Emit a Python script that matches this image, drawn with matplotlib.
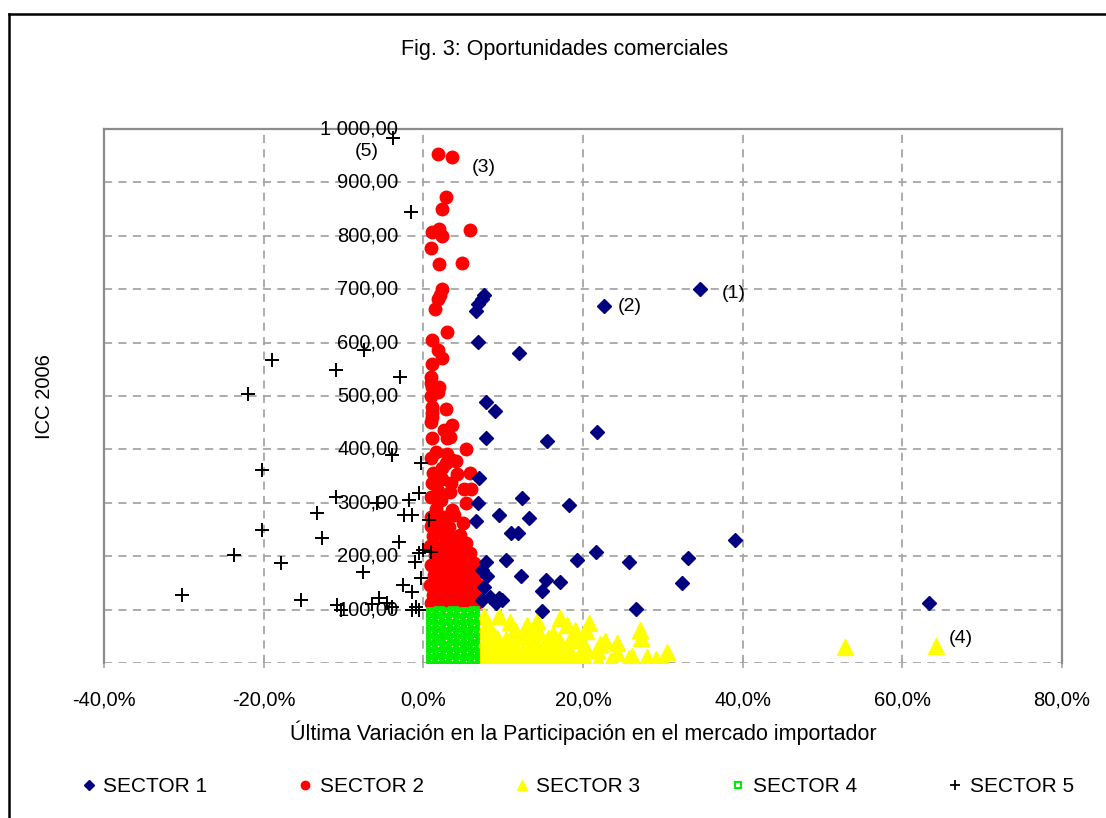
import matplotlib
matplotlib.use('Agg')
import matplotlib.pyplot as plt
from matplotlib.lines import Line2D

plt.rcParams['font.family'] = ['Liberation Sans', 'DejaVu Sans']
plt.rcParams['axes.unicode_minus'] = False

title = "Fig. 3: Oportunidades comerciales"
x_label = "Última Variación en la Participación en el mercado importador"
y_label = "ICC 2006"
x_ticks = [-40, -20, 0, 20, 40, 60, 80]
x_tick_labels = ["-40,0%", "-20,0%", "0,0%", "20,0%", "40,0%", "60,0%", "80,0%"]
y_ticks = [100, 200, 300, 400, 500, 600, 700, 800, 900, 1000]
y_tick_labels = ["100,00", "200,00", "300,00", "400,00", "500,00", "600,00",
                 "700,00", "800,00", "900,00", "1 000,00"]
series_names = ["SECTOR 1", "SECTOR 2", "SECTOR 3", "SECTOR 4", "SECTOR 5"]

sector1 = [(34.6, 700), (22.6, 668), (7.6, 690), (7.3, 681), (6.8, 672), (6.6, 659),
           (6.8, 602), (12.0, 580), (7.9, 488), (9.0, 471), (7.8, 422), (15.5, 415),
           (21.7, 432), (7.0, 347), (6.9, 300), (6.6, 266), (9.5, 278), (12.4, 309),
           (13.2, 272), (18.2, 295), (11.0, 244), (11.8, 244), (39.0, 231), (7.8, 190),
           (7.4, 174), (8.0, 162), (7.6, 143), (8.3, 124), (9.5, 122), (9.1, 112),
           (7.3, 118), (9.9, 118), (10.3, 193), (12.2, 163), (15.4, 156), (14.9, 135),
           (17.1, 152), (19.2, 192), (21.6, 207), (14.9, 98), (25.8, 190), (33.2, 197),
           (32.4, 150), (26.7, 101), (63.4, 113)]

sector2 = [(0.9, 112), (2.0, 110), (3.1, 113), (4.0, 109), (5.1, 112), (6.2, 110), (6.8, 115),
           (1.2, 128), (2.4, 131), (3.4, 127), (4.6, 132), (5.6, 129), (6.6, 133),
           (0.8, 146), (1.9, 149), (2.9, 145), (3.9, 150), (5.0, 147), (6.1, 151), (6.9, 146),
           (1.3, 165), (2.3, 167), (3.5, 163), (4.4, 168), (5.5, 166), (6.5, 164),
           (0.9, 183), (2.0, 186), (3.0, 181), (4.1, 185), (5.2, 182), (6.3, 188),
           (1.4, 202), (2.6, 199), (3.6, 204), (4.7, 201), (5.8, 206),
           (0.8, 220), (1.9, 218), (3.1, 223), (4.3, 219), (5.3, 225),
           (1.2, 238), (2.4, 241), (3.5, 236), (4.6, 240), (1.0, 256), (2.1, 259),
           (3.2, 254), (5.0, 262), (0.9, 274), (2.6, 274), (3.9, 278), (1.6, 289),
           (3.6, 287), (5.4, 300), (2.2, 305), (0.9, 310),
           (1.8, 322), (3.3, 320), (5.1, 325), (6.0, 325), (1.1, 338), (3.5, 337),
           (2.4, 345), (1.2, 356), (4.2, 353), (5.8, 356), (2.3, 365), (3.6, 381),
           (2.9, 375), (1.0, 384), (4.1, 378), (1.6, 396), (5.4, 400), (3.0, 392),
           (3.3, 424), (1.1, 422), (3.0, 422), (2.6, 437), (3.6, 446), (1.0, 452),
           (1.1, 460), (2.9, 475), (1.1, 469), (1.1, 480), (1.0, 500), (1.8, 508),
           (1.1, 516), (2.0, 516), (1.0, 525), (1.0, 535), (1.1, 559), (2.3, 572),
           (1.8, 587), (1.1, 604), (3.0, 619), (1.4, 662), (1.8, 681), (2.1, 690),
           (2.4, 700), (2.0, 748), (4.9, 750), (1.0, 778), (2.3, 800), (1.1, 807),
           (2.0, 812), (5.8, 810), (2.4, 850), (2.8, 872), (1.8, 953), (3.6, 947)]

sector3 = [(7.4, 5), (8.7, 4), (10.0, 6), (11.3, 5), (12.6, 4), (13.9, 6), (15.2, 5),
           (16.5, 4), (17.8, 6), (19.1, 5), (20.4, 3), (21.9, 4), (23.5, 6), (25.8, 10),
           (28.0, 11), (30.0, 3),
           (8.0, 18), (9.3, 19), (10.6, 17), (11.9, 20), (13.2, 18), (14.5, 19), (15.8, 17),
           (17.1, 19), (18.4, 18), (19.8, 20), (21.8, 24), (24.3, 18), (26.2, 13), (29.2, 8),
           (7.5, 32), (8.8, 33), (10.1, 31), (11.4, 33), (12.7, 32), (14.0, 31), (15.3, 33),
           (16.6, 32), (18.0, 31), (20.2, 30), (22.1, 36), (30.5, 21),
           (7.9, 46), (9.2, 47), (10.4, 45), (12.4, 50), (13.8, 44), (15.6, 46), (17.0, 44),
           (18.7, 46), (19.6, 43), (22.7, 41), (24.2, 38), (27.3, 47),
           (7.5, 60), (8.6, 58), (11.5, 62), (13.0, 60), (14.5, 57), (16.3, 55), (19.0, 62),
           (20.4, 60), (27.1, 62),
           (7.6, 88), (7.9, 72), (9.5, 88), (10.8, 77), (13.0, 72), (14.2, 78), (17.1, 84),
           (18.0, 72), (20.8, 75), (52.8, 30), (64.2, 32)]

sector4 = [(0.9, 6), (1.8, 5), (2.7, 7), (3.6, 5), (4.5, 6), (5.4, 4), (6.3, 6),
           (1.0, 19), (1.9, 20), (2.8, 18), (3.7, 20), (4.6, 19), (5.5, 21), (6.3, 18),
           (0.9, 32), (1.8, 31), (2.7, 33), (3.6, 32), (4.5, 31), (5.4, 33), (6.2, 32),
           (1.0, 45), (1.9, 46), (2.8, 44), (3.7, 46), (4.6, 45), (5.5, 44), (6.3, 46),
           (0.9, 58), (1.8, 57), (2.7, 59), (3.6, 58), (4.5, 57), (5.4, 59), (6.2, 58),
           (1.0, 71), (1.9, 72), (2.8, 70), (3.7, 72), (4.6, 71), (5.5, 70), (6.3, 72),
           (0.9, 84), (1.8, 83), (2.7, 85), (3.6, 84), (4.5, 83), (5.4, 85), (6.2, 84),
           (1.0, 96), (1.9, 97), (2.8, 95), (3.7, 97), (4.6, 96), (5.5, 95), (6.3, 97)]

sector5 = [(-3.8, 983), (-1.6, 844), (-18.9, 568), (-7.4, 587), (-11.0, 548), (-2.9, 535),
           (-21.9, 503), (-20.2, 362), (-3.9, 390), (-0.3, 375), (-10.9, 311), (-13.3, 281),
           (-5.8, 300), (-1.8, 306), (-0.5, 319), (-2.4, 278), (-1.4, 278), (0.75, 268),
           (-20.2, 249), (-12.7, 234), (-23.7, 203), (-17.8, 188), (-3.0, 227), (-0.1, 212),
           (1.0, 208), (-1.1, 190), (-0.5, 206), (-7.6, 171), (-0.3, 159), (-2.6, 146),
           (-1.4, 133), (-30.2, 128), (-15.3, 118), (-10.8, 109), (-10.3, 99), (-5.5, 122),
           (-4.6, 112), (-6.4, 111), (-3.9, 105), (-0.9, 105), (-0.5, 99), (-1.4, 99)]

W, H = 1106, 818
fig = plt.figure(figsize=(W / 100, H / 100), dpi=100)
ax = fig.add_axes([104 / W, 1 - 663 / H, (1062 - 104) / W, (663 - 129) / H])
ax.set_xlim(-40, 80)
ax.set_ylim(0, 1000)

grid_color = '#a6a6a6'
ax.set_xticks(x_ticks)
ax.set_xticklabels(x_tick_labels, fontsize=14.5)
ax.set_yticks([0] + y_ticks)
ax.tick_params(axis='y', left=False, labelleft=False)
ax.tick_params(axis='x', direction='inout', length=7, color=grid_color, pad=16, width=1.2)
ax.grid(True, color=grid_color, linestyle=(0, (4.5, 3.5)), linewidth=1.3, zorder=0)
ax.set_axisbelow(True)
for side in ['left', 'right', 'top']:
    ax.spines[side].set_color('#8c8c8c')
    ax.spines[side].set_linewidth(1.6)
ax.spines['bottom'].set_visible(False)

def unzip(pts):
    return [p[0] for p in pts], [p[1] for p in pts]

x1, y1 = unzip(sector1)
x2, y2 = unzip(sector2)
x3, y3 = unzip(sector3)
x4, y4 = unzip(sector4)
x5, y5 = unzip(sector5)

ax.plot(x2, y2, 'o', color='#ff0000', ms=9, mec='#ff0000', zorder=2)
ax.plot(x3, y3, '^', color='#ffff00', ms=11, mec='#ffff00', zorder=2)
ax.plot(x1, y1, 'D', color='#000080', ms=7.5, mec='#000080', zorder=3)
ax.plot(x4, y4, 's', mfc='white', mec='#00ee00', mew=3.4, ms=5, ls='none', zorder=4)
ax.plot(x5, y5, '+', color='black', ms=10, mew=1.4, zorder=5)

legend_handles = [
    Line2D([], [], ls='none', marker='D', color='#000080', ms=5, label=series_names[0]),
    Line2D([], [], ls='none', marker='o', color='#ff0000', ms=6, label=series_names[1]),
    Line2D([], [], ls='none', marker='^', color='#ffff00', ms=7.5, label=series_names[2]),
    Line2D([], [], ls='none', marker='s', mfc='white', mec='#00ee00', mew=1.5, ms=5, label=series_names[3]),
    Line2D([], [], ls='none', marker='+', color='black', ms=7, mew=1.3, label=series_names[4]),
]

for v, lab in zip(y_ticks, y_tick_labels):
    ax.annotate(lab, xy=(0, v), xytext=(-18, 0), textcoords='offset points',
                ha='right', va='center', fontsize=14.5, zorder=6, annotation_clip=False)

# labelled points
ax.annotate("(1)", xy=sector1[0], xytext=(16, -3), textcoords='offset points', ha='left', va='center', fontsize=14)
ax.annotate("(2)", xy=sector1[1], xytext=(10, 0), textcoords='offset points', ha='left', va='center', fontsize=14)
ax.annotate("(3)", xy=sector2[-1], xytext=(14, -7), textcoords='offset points', ha='left', va='center', fontsize=14)
ax.annotate("(4)", xy=sector3[-1], xytext=(9, 5), textcoords='offset points', ha='left', va='center', fontsize=14)
ax.annotate("(5)", xy=sector5[0], xytext=(-19, -10), textcoords='offset points', ha='center', va='center', fontsize=14)

fig.text(565 / W, 1 - 50 / H, title, ha='center', va='center', fontsize=15.5)
fig.text(583 / W, 1 - 733 / H, x_label, ha='center', va='center', fontsize=15.5)
fig.text(45 / W, 1 - 397 / H, y_label, ha='center', va='center', rotation=90, fontsize=14.5)

fig.legend(handles=legend_handles, loc='center', bbox_to_anchor=(578 / W, 1 - 787 / H),
           ncol=5, frameon=False, fontsize=15, handlelength=0.6,
           handletextpad=0.4, columnspacing=4.4)

# figure border (left and top)
fig.add_artist(Line2D([9 / W, 9 / W], [0, 1 - 14 / H], color='black', lw=1.8))
fig.add_artist(Line2D([9 / W, 1], [1 - 14 / H, 1 - 14 / H], color='black', lw=1.8))

fig.savefig('out.png', dpi=100, facecolor='white')
